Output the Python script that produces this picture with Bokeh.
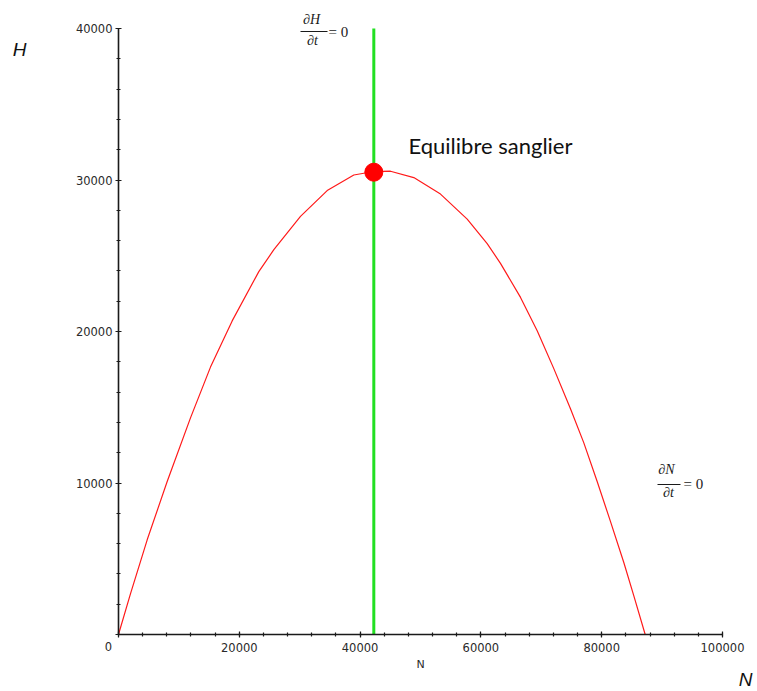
from bokeh.plotting import figure
from bokeh.models import Range1d, FixedTicker, Label, BasicTickFormatter, LinearAxis
from bokeh.embed import file_html
from bokeh.resources import INLINE

# --- data ---
curve_N = [0, 1990, 4750, 8060, 11920, 15230, 18820, 23230, 25720, 30130, 34550,
           38960, 42270, 45030, 48890, 53310, 57730, 61040, 63240, 66560, 69320,
           72070, 74830, 77040, 79250, 81460, 83660, 85320, 87200]
curve_H = [0, 2700, 6250, 10100, 14300, 17650, 20700, 23950, 25400, 27600, 29300,
           30330, 30560, 30580, 30160, 29070, 27420, 25800, 24500, 22250, 20050,
           17550, 14900, 12650, 10100, 7450, 4750, 2550, 0]
eq_N = [42270]
eq_H = [30515]
nullcline_H_N = [42270, 42270]
nullcline_H_H = [0, 40000]
x_major = [0, 20000, 40000, 60000, 80000, 100000]
x_minor = [v for v in range(0, 100001, 4000)]
y_major = [0, 10000, 20000, 30000, 40000]
y_minor = [v for v in range(0, 40001, 2000)]

W, H = 757, 691


def dx(px):
    return (px - 118) / 604 * 100000


def dy(py):
    return (634 - py) / 606 * 40000


p = figure(width=W, height=H, x_range=Range1d(dx(0), dx(W)), y_range=Range1d(dy(H), dy(0)),
           output_backend="svg", toolbar_location=None, x_axis_type=None, y_axis_type=None,
           min_border=0)
p.min_border_left = 0
p.min_border_right = 0
p.min_border_top = 0
p.min_border_bottom = 0
p.outline_line_color = None
p.background_fill_color = "white"
p.border_fill_color = "white"

xax = LinearAxis(fixed_location=0, bounds=(0, 100000))
yax = LinearAxis(fixed_location=0, bounds=(0, 40000))
p.add_layout(xax, "below")
p.add_layout(yax, "left")

for ax, maj, mn in ((xax, x_major, x_minor), (yax, y_major, y_minor)):
    ax.ticker = FixedTicker(ticks=maj, minor_ticks=mn)
    ax.formatter = BasicTickFormatter(use_scientific=False)
    ax.axis_line_color = "#1a1a1a"
    ax.axis_line_width = 1.6
    ax.major_tick_line_color = "#1a1a1a"
    ax.minor_tick_line_color = "#1a1a1a"
    ax.major_tick_line_width = 1.2
    ax.minor_tick_line_width = 1.2
    ax.major_tick_in = 3
    ax.major_tick_out = 3
    ax.minor_tick_in = 2
    ax.minor_tick_out = 2
    ax.major_label_text_font = "DejaVu Sans"
    ax.major_label_text_font_size = "11.5px"
    ax.major_label_text_color = "#2a2a2a"
    ax.major_label_overrides = {0: ""}
xax.major_label_standoff = 5
yax.major_label_standoff = 3

# curves
p.line(curve_N, curve_H, line_color="#ff1a1a", line_width=1.2, line_join="round")
p.line(nullcline_H_N, nullcline_H_H, line_color="#22e022", line_width=3)
p.scatter(eq_N, eq_H, size=18, fill_color="#ff0000", line_color="#ff0000")


def lab(text, px, py, font="DejaVu Sans", size="11px", style="normal", align="center",
        baseline="middle", color="#1a1a1a"):
    p.add_layout(Label(x=dx(px), y=dy(py), text=text, text_font=font, text_font_size=size,
                       text_font_style=style, text_align=align, text_baseline=baseline,
                       text_color=color))


# origin label and axis labels
lab("0", 108, 646, size="11.5px", color="#2a2a2a")
lab("N", 420, 664, size="11px", color="#2a2a2a")
lab("H", 19, 49, font="Liberation Sans", size="19px", style="italic", color="#111111")
lab("N", 752, 679, font="Liberation Sans", size="19px", style="italic", color="#111111",
    align="right")

# equation dH/dt = 0
serif = "Liberation Serif"
lab("∂H", 311, 19, font=serif, size="14px", style="italic")
lab("∂t", 312, 40, font=serif, size="14px", style="italic")
lab("= 0", 328, 31, font=serif, size="15px", align="left")
p.segment(x0=[dx(300)], y0=[dy(31)], x1=[dx(327)], y1=[dy(31)], line_color="#1a1a1a", line_width=1)

# equation dN/dt = 0
lab("∂N", 666, 469, font=serif, size="14px", style="italic")
lab("∂t", 668, 492, font=serif, size="14px", style="italic")
lab("= 0", 683, 483, font=serif, size="15px", align="left")
p.segment(x0=[dx(657)], y0=[dy(484)], x1=[dx(680)], y1=[dy(484)], line_color="#1a1a1a", line_width=1)

# equilibrium label
lab("Equilibre sanglier", 408, 145, font="Lato", size="22px", align="left",
    baseline="middle", color="#111111")

open("out.html", "w").write(file_html(p, INLINE))
